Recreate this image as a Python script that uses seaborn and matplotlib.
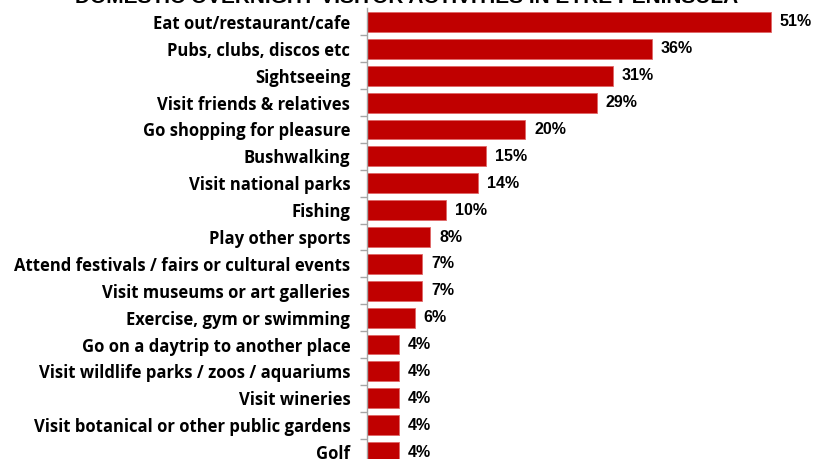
import matplotlib
matplotlib.use("Agg")
import matplotlib.pyplot as plt
import seaborn as sns
import pandas as pd
import numpy as np

activities = [
    "Eat out/restaurant/cafe",
    "Pubs, clubs, discos etc",
    "Sightseeing",
    "Visit friends & relatives",
    "Go shopping for pleasure",
    "Bushwalking",
    "Visit national parks",
    "Fishing",
    "Play other sports",
    "Attend festivals / fairs or cultural events",
    "Visit museums or art galleries",
    "Exercise, gym or swimming",
    "Go on a daytrip to another place",
    "Visit wildlife parks / zoos / aquariums",
    "Visit wineries",
    "Visit botanical or other public gardens",
    "Golf",
]
shares = [51, 36, 31, 29, 20, 15, 14, 10, 8, 7, 7, 6, 4, 4, 4, 4, 4]
title = "DOMESTIC OVERNIGHT VISITOR ACTIVITIES IN EYRE PENINSULA"

df = pd.DataFrame({"activity": activities, "share": shares})

sns.set_theme(style="white")
plt.rcParams["font.family"] = ["Open Sans", "DejaVu Sans"]

fig = plt.figure(figsize=(8.24, 4.59), dpi=100)
ax = fig.add_axes([367 / 824, -6.5 / 459, (824 - 367) / 824, 457 / 459])

sns.barplot(data=df, x="share", y="activity", orient="h", color="#C00000",
            saturation=1, width=0.74, edgecolor="#E06666", linewidth=0.6, ax=ax)

ax.set_xlim(0, 57.7)
ax.set_ylim(len(activities) - 0.5, -0.5)
ax.set_xlabel("")
ax.set_ylabel("")
ax.set_xticks([])

# category boundaries carry the tick marks
ax.set_yticks(np.arange(len(activities)) + 0.5, minor=False)
ax.set_yticklabels([])
ax.set_yticks(np.arange(len(activities)), minor=True)
ax.set_yticklabels(activities, minor=True, fontsize=12, fontweight="bold", color="#000000")
ax.tick_params(axis="y", which="major", left=True, length=5, width=1, color="#A6A6A6", pad=0)
ax.tick_params(axis="y", which="minor", left=False, length=0, pad=12)

for side in ["top", "right", "bottom"]:
    ax.spines[side].set_visible(False)
ax.spines["left"].set_color("#A6A6A6")
ax.spines["left"].set_linewidth(1)

for i, v in enumerate(shares):
    ax.text(v + 1.1, i, f"{v}%", va="center", ha="left", fontsize=11.5,
            fontweight="bold", color="#000000", family=["Liberation Sans", "DejaVu Sans"])

fig.text(407 / 824, 1 - 3 / 459, title, ha="center", va="baseline", fontsize=15,
         fontweight="bold", color="#000000", family=["Liberation Sans Narrow", "Liberation Sans"])

fig.savefig("out.png", dpi=100)
